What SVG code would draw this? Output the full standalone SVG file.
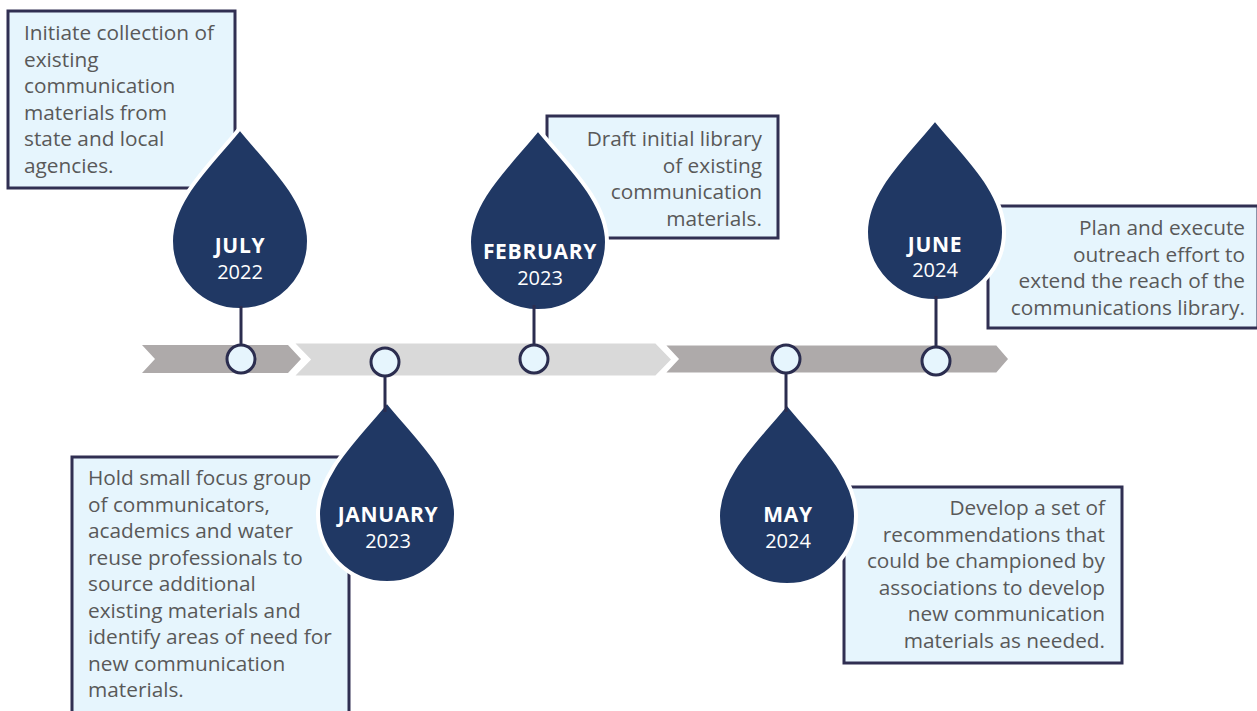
<svg xmlns="http://www.w3.org/2000/svg" xmlns:xlink="http://www.w3.org/1999/xlink" width="1257" height="711" viewBox="0 0 1257 711">
<style>
.box{fill:#e6f5fd;stroke:#302f52;stroke-width:3}
.drop{fill:#203864;stroke:#ffffff;stroke-width:4}
.txt{font-family:"Open Sans","Noto Sans",sans-serif;font-size:20.8px;fill:#595959}
.r{text-anchor:end}
.mon{font-family:"Open Sans","Noto Sans",sans-serif;font-size:21px;font-weight:bold;letter-spacing:0.7px;fill:#ffffff;text-anchor:middle}
.yr{font-family:"Open Sans","Noto Sans",sans-serif;font-size:20px;fill:#ffffff;text-anchor:middle}
.dot{fill:#e6f5fd;stroke:#2b2d4f;stroke-width:3}
.stem{stroke:#2b2d4f;stroke-width:3;fill:none}
.seg{stroke:#ffffff;stroke-width:3}
</style>
<defs>
<path id="dropShape" d="M0,-113 C28,-78 69,-42 69,0 A69,69 0 1 1 -69,0 C-69,-42 -28,-78 0,-113 Z"/>
</defs>
<rect width="1257" height="711" fill="#ffffff"/>
<g id="timeline">
<polygon fill="#aeaaaa" points="142,345 288,345 301,359 288,373 142,373 155,359"/>
<polygon class="seg" fill="#d9d9d9" points="292,342 656,342 673,359.5 656,377 292,377 309,359.5"/>
<polygon class="seg" fill="#aeaaaa" points="663,344 997,344 1010,359 997,374 663,374 677,359"/>
</g>
<g id="july">
<rect class="box" x="8" y="11" width="227" height="177"/>
<use xlink:href="#dropShape" class="drop" x="240" y="241"/>
<text class="txt"><tspan x="24" y="40">Initiate collection of</tspan><tspan x="24" y="66.5">existing</tspan><tspan x="24" y="93">communication</tspan><tspan x="24" y="119.5">materials from</tspan><tspan x="24" y="146">state and local</tspan><tspan x="24" y="172.5">agencies.</tspan></text>
<text class="mon" x="240" y="253">JULY</text>
<text class="yr" x="240" y="279">2022</text>
<circle class="dot" cx="241" cy="359" r="14"/>
</g>
<g id="january">
<rect class="box" x="72" y="457" width="277" height="270"/>
<use xlink:href="#dropShape" class="drop" x="387" y="514"/>
<text class="txt"><tspan x="88" y="485">Hold small focus group</tspan><tspan x="88" y="511.5">of communicators,</tspan><tspan x="88" y="538">academics and water</tspan><tspan x="88" y="564.5">reuse professionals to</tspan><tspan x="88" y="591">source additional</tspan><tspan x="88" y="617.5">existing materials and</tspan><tspan x="88" y="644">identify areas of need for</tspan><tspan x="88" y="670.5">new communication</tspan><tspan x="88" y="697">materials.</tspan></text>
<text class="mon" x="388" y="521.5">JANUARY</text>
<text class="yr" x="388" y="548">2023</text>
<circle class="dot" cx="385" cy="362" r="14"/>
</g>
<g id="february">
<rect class="box" x="547" y="116" width="231" height="122"/>
<use xlink:href="#dropShape" class="drop" x="538" y="242"/>
<text class="txt r"><tspan x="762" y="146">Draft initial library</tspan><tspan x="762" y="172.5">of existing</tspan><tspan x="762" y="199">communication</tspan><tspan x="762" y="225.5">materials.</tspan></text>
<text class="mon" x="540" y="259">FEBRUARY</text>
<text class="yr" x="540" y="285">2023</text>
<circle class="dot" cx="534" cy="359" r="14"/>
</g>
<g id="may">
<rect class="box" x="844" y="487" width="278" height="176"/>
<use xlink:href="#dropShape" class="drop" x="787" y="516"/>
<text class="txt r"><tspan x="1105" y="515">Develop a set of</tspan><tspan x="1105" y="541.5">recommendations that</tspan><tspan x="1105" y="568">could be championed by</tspan><tspan x="1105" y="594.5">associations to develop</tspan><tspan x="1105" y="621">new communication</tspan><tspan x="1105" y="647.5">materials as needed.</tspan></text>
<text class="mon" x="788" y="521.5">MAY</text>
<text class="yr" x="788" y="548">2024</text>
<circle class="dot" cx="786" cy="359" r="14"/>
</g>
<g id="june">
<rect class="box" x="988" y="206" width="270" height="122"/>
<use xlink:href="#dropShape" class="drop" x="935" y="232"/>
<text class="txt r"><tspan x="1245" y="235">Plan and execute</tspan><tspan x="1245" y="261.5">outreach effort to</tspan><tspan x="1245" y="288">extend the reach of the</tspan><tspan x="1245" y="314.5">communications library.</tspan></text>
<text class="mon" x="935" y="251.5">JUNE</text>
<text class="yr" x="935" y="277">2024</text>
<circle class="dot" cx="936" cy="361" r="14"/>
</g>
<g id="connectors">
<line class="stem" x1="241" y1="306" x2="241" y2="344"/>
<line class="stem" x1="385" y1="377" x2="385" y2="412"/>
<line class="stem" x1="534" y1="305" x2="534" y2="344"/>
<line class="stem" x1="786" y1="374" x2="786" y2="412"/>
<line class="stem" x1="936" y1="296" x2="936" y2="346"/>
</g>
</svg>
